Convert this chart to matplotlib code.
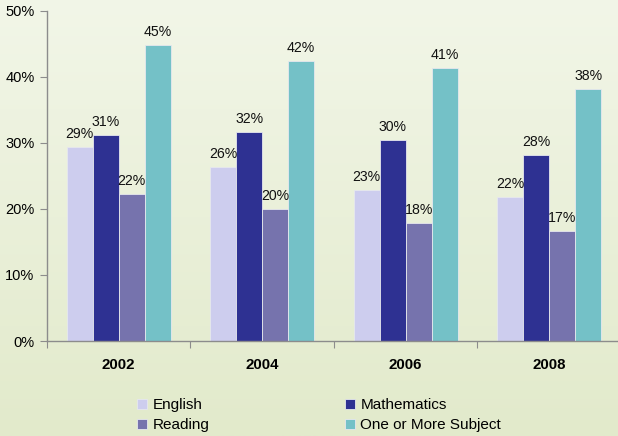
import matplotlib
matplotlib.use("Agg")
import matplotlib.pyplot as plt
import numpy as np

plt.rcParams["font.family"] = ["Liberation Sans", "DejaVu Sans"]

years = ["2002", "2004", "2006", "2008"]
series_names = ["English", "Mathematics", "Reading", "One or More Subject"]
english = [29.4, 26.3, 22.9, 21.8]
mathematics = [31.2, 31.7, 30.4, 28.2]
reading = [22.3, 20.0, 17.9, 16.6]
one_or_more = [44.8, 42.4, 41.3, 38.2]
colors = ["#CDCDEE", "#2E3192", "#7673AD", "#74C1C7"]

series = [english, mathematics, reading, one_or_more]

fig = plt.figure(figsize=(6.18, 4.36), dpi=100)

# gradient background
bg = fig.add_axes([0, 0, 1, 1], zorder=-10)
top = np.array([0xF2, 0xF6, 0xE8]) / 255
bottom = np.array([0xE2, 0xEA, 0xCB]) / 255
t = np.linspace(0, 1, 256)[:, None]
grad = top + (bottom - top) * t
bg.imshow(grad[:, None, :], aspect="auto", extent=[0, 1, 0, 1])
bg.set_axis_off()

ax = fig.add_axes([47 / 618, 95 / 436, 571 / 618, 330 / 436])
ax.patch.set_alpha(0)

x = np.arange(len(years))
width = 0.181
for i, (vals, name, color) in enumerate(zip(series, series_names, colors)):
    pos = x + (i - 1.5) * width
    ax.bar(pos, vals, width=width, color=color, edgecolor="#E6E8EE", linewidth=0.6,
           label=name, zorder=2)
    for px, v in zip(pos, vals):
        ax.text(px, v + 0.9, f"{round(v):d}%", ha="center", va="bottom",
                fontsize=10.2, color="#111111", zorder=3)

ax.set_ylim(0, 50)
ax.set_xlim(-0.5, 3.48)
ax.set_yticks(np.arange(0, 51, 10))
ax.set_yticklabels([f"{v}%" for v in range(0, 51, 10)], fontsize=10.5)
ax.set_xticks([-0.5, 0.5, 1.5, 2.5])
ax.set_xticklabels([])
ax.tick_params(axis="y", length=5, color="#8C8C8C", pad=4)
ax.tick_params(axis="x", length=5, color="#8C8C8C")
for xi, yr in zip(x, years):
    ax.text(xi, -2.6, yr, ha="center", va="top", fontsize=10.8, fontweight="bold",
            transform=ax.transData, clip_on=False)

for s in ["top", "right"]:
    ax.spines[s].set_visible(False)
for s in ["left", "bottom"]:
    ax.spines[s].set_color("#8C8C8C")
    ax.spines[s].set_linewidth(1.0)

handles, labels = ax.get_legend_handles_labels()
order = [0, 2, 1, 3]
fig.legend([handles[k] for k in order], [labels[k] for k in order],
           ncol=2, frameon=False, loc="upper left",
           bbox_to_anchor=(137 / 618, 1 - 398 / 436),
           fontsize=11, handlelength=0.65, handleheight=0.65,
           handletextpad=0.35, columnspacing=8.9, labelspacing=0.4,
           borderpad=0, borderaxespad=0)

fig.savefig("out.png", dpi=100)
